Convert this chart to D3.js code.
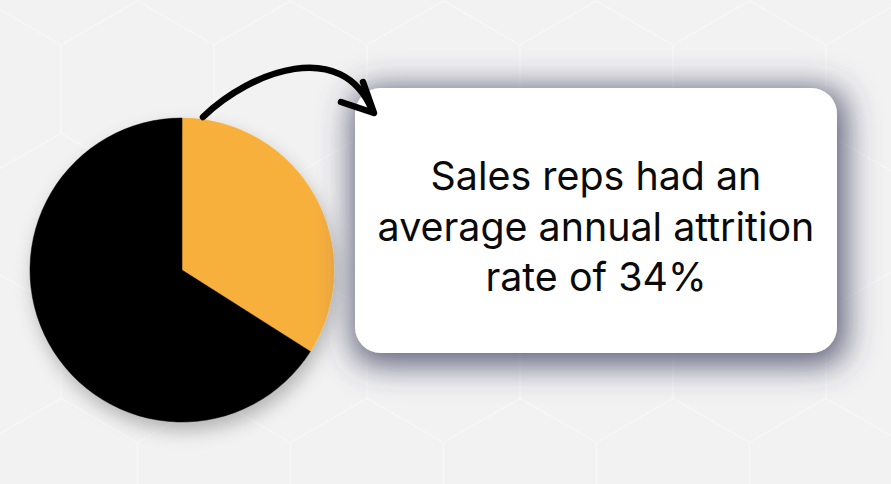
<!DOCTYPE html>
<html>
<head>
<meta charset="utf-8">
<script src="https://cdn.jsdelivr.net/npm/d3@7"></script>
<style>
html,body{margin:0;padding:0;background:#f2f2f2;}
svg{display:block;}
</style>
</head>
<body>
<svg id="chart" width="891" height="484"></svg>
<script>
const categories = ["Attrition", "Retained"];
const values = [34, 66];
const sliceColors = ["#F8B03D", "#000000"];
const cardLines = ["Sales reps had an", "average annual attrition", "rate of 34%"];

const W = 891, H = 484;
const svg = d3.select("#chart");
const defs = svg.append("defs");

// filters
const cardShadow = defs.append("filter").attr("id", "cardShadow")
  .attr("x", "-30%").attr("y", "-50%").attr("width", "160%").attr("height", "200%");
cardShadow.append("feMorphology").attr("in", "SourceAlpha").attr("operator", "dilate").attr("radius", 6).attr("result", "d");
cardShadow.append("feGaussianBlur").attr("in", "d").attr("stdDeviation", 16).attr("result", "b");
cardShadow.append("feOffset").attr("in", "b").attr("dx", 3).attr("dy", 6).attr("result", "o");
cardShadow.append("feFlood").attr("flood-color", "#3a3c5c").attr("flood-opacity", 0.8);
cardShadow.append("feComposite").attr("in2", "o").attr("operator", "in").attr("result", "s");
const m1 = cardShadow.append("feMerge");
m1.append("feMergeNode").attr("in", "s");
m1.append("feMergeNode").attr("in", "SourceGraphic");

const pieShadow = defs.append("filter").attr("id", "pieShadow")
  .attr("x", "-30%").attr("y", "-30%").attr("width", "160%").attr("height", "160%");
pieShadow.append("feGaussianBlur").attr("in", "SourceAlpha").attr("stdDeviation", 9).attr("result", "b");
pieShadow.append("feOffset").attr("in", "b").attr("dx", 3).attr("dy", 9).attr("result", "o");
pieShadow.append("feFlood").attr("flood-color", "#000").attr("flood-opacity", 0.25);
pieShadow.append("feComposite").attr("in2", "o").attr("operator", "in").attr("result", "s");
const m2 = pieShadow.append("feMerge");
m2.append("feMergeNode").attr("in", "s");
m2.append("feMergeNode").attr("in", "SourceGraphic");

// background
svg.append("rect").attr("width", W).attr("height", H).attr("fill", "#f2f2f2");

// faint hexagon pattern (pointy-top)
const hw = 153, hs = hw / Math.sqrt(3), x0 = 61, yTop = 45;
const hexG = svg.append("g").attr("fill", "none").attr("stroke", "#f7f7f7").attr("stroke-width", 1.3);
for (let r = -1; r < 5; r++) {
  const off = (r % 2 !== 0) ? hw / 2 : 0;
  const y1 = yTop + r * 1.5 * hs;
  for (let c = -2; c < 8; c++) {
    const xl = x0 + off + c * hw;
    const cx = xl + hw / 2;
    const pts = [[xl, y1 + hs], [xl, y1], [cx, y1 - hs / 2], [xl + hw, y1]];
    hexG.append("path").attr("d", d3.line()(pts));
  }
}

// pie
const cx = 182, cy = 270, R = 152;
const pie = d3.pie().sort(null).value(d => d)(values);
const arc = d3.arc().innerRadius(0).outerRadius(R);
svg.append("g").attr("transform", `translate(${cx},${cy})`).attr("filter", "url(#pieShadow)")
  .selectAll("path").data(pie).join("path")
  .attr("d", arc).attr("fill", (d, i) => sliceColors[i])
  .attr("stroke", (d, i) => sliceColors[i]).attr("stroke-width", 0.5);

// card
const card = {x: 355, y: 88, w: 482, h: 265, r: 26};
svg.append("rect").attr("x", card.x).attr("y", card.y).attr("width", card.w).attr("height", card.h)
  .attr("rx", card.r).attr("fill", "#ffffff").attr("filter", "url(#cardShadow)");

// arrow
const arrowG = svg.append("g").attr("fill", "none").attr("stroke", "#000")
  .attr("stroke-width", 6.5).attr("stroke-linecap", "round").attr("stroke-linejoin", "round");
arrowG.append("path").attr("d", "M203,117 C252,70 342,38 372,110");
arrowG.append("path").attr("d", "M341,102 L374,113 L363,82");

// text
const tx = card.x + card.w / 2;
const textG = svg.append("g").attr("font-family", "Inter, 'Open Sans', sans-serif")
  .attr("font-size", 34).attr("fill", "#0a0a0a").attr("text-anchor", "middle");
const baselines = [190, 241, 291];
cardLines.forEach((t, i) => {
  textG.append("text").attr("x", tx).attr("y", baselines[i]).text(t);
});
// fit widest line to measured width
const targetWidest = 437;
textG.selectAll("text").each(function(d, i) {
  if (i === 1) {
    const len = this.getComputedTextLength();
    textG.attr("font-size", 34 * targetWidest / len);
  }
});
</script>
</body>
</html>
